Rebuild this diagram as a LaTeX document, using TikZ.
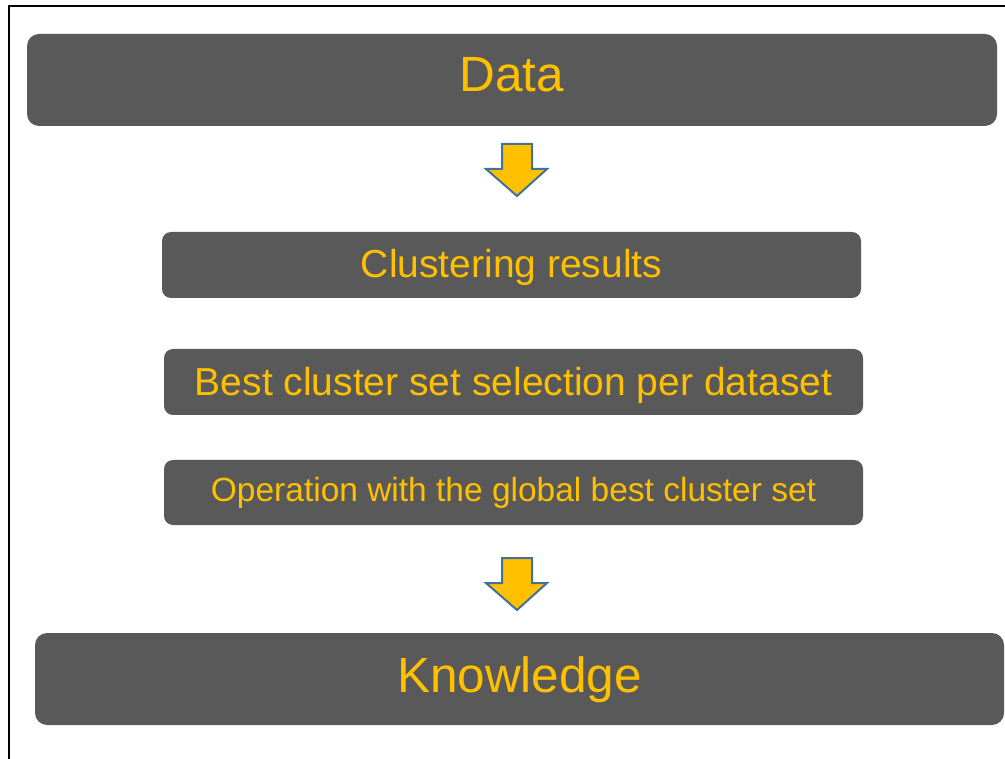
\documentclass[tikz,border=0pt]{standalone}
\usepackage{fontspec}
\setmainfont{Liberation Sans}
\definecolor{boxgray}{HTML}{595959}
\definecolor{gold}{HTML}{FFC000}
\definecolor{arrowedge}{HTML}{41719C}
\begin{document}
\begin{tikzpicture}[x=1pt,y=-1pt,
  stage/.style={fill=boxgray, rounded corners=12pt, inner sep=0pt, text=gold,
    text depth=0pt, align=center},
  bigstage/.style={stage, minimum width=970pt, minimum height=92pt,
    font=\fontsize{49.5}{55}\selectfont},
  midstage/.style={stage, rounded corners=9pt, minimum width=699pt, minimum height=66pt,
    font=\fontsize{39}{44}\selectfont},
  flowarrow/.style={fill=gold, draw=arrowedge, line width=2pt, line join=miter}]
\useasboundingbox (0,0) rectangle (1005,759);

% frame on the left and top edges
\draw[line width=2.6pt] (9,759) -- (9,6) -- (1005,6);

% stages of the process
\node[bigstage, text height=24pt] (data) at (512,80) {Data};
\node[midstage, text height=26pt] (clust) at (511.5,265) {Clustering results};
\node[midstage, text height=28pt] (best) at (513.5,382) {Best cluster set selection per dataset};
\node[midstage, minimum height=65pt, text height=17pt, font=\fontsize{33.5}{38}\selectfont]
  (oper) at (513.5,492.5) {Operation with the global best cluster set};
\node[bigstage, minimum width=969pt, text height=26pt] (know) at (519.5,679) {Knowledge};

% block arrows
\draw[flowarrow] (502,144) -- (532,144) -- (532,169) -- (547,169) -- (517,196)
  -- (486,169) -- (502,169) -- cycle;
\draw[flowarrow] (502,558) -- (532,558) -- (532,583) -- (547,583) -- (517,610)
  -- (486,583) -- (502,583) -- cycle;
\end{tikzpicture}
\end{document}
